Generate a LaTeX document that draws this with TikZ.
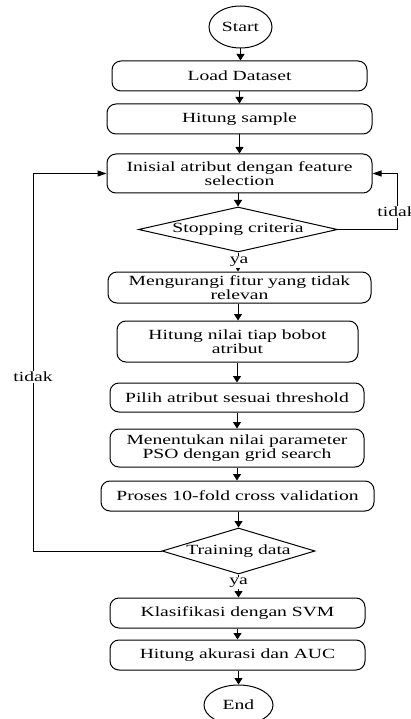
\documentclass[tikz,border=0pt]{standalone}
\usepackage{fontspec}
\setmainfont{Liberation Serif}[FakeStretch=1.4]
\usetikzlibrary{shapes.geometric,arrows.meta}
\begin{document}
\begin{tikzpicture}[x=1pt,y=-1pt,
  every node/.style={font=\fontsize{14}{14}\selectfont, align=center, inner sep=0pt},
  proc/.style={draw, line width=1pt, rounded corners=9pt, fill=white},
  term/.style={draw, line width=1pt, ellipse, fill=white},
  decis/.style={draw, line width=1pt, diamond, fill=white},
  flow/.style={line width=1pt, -{Triangle[length=6.5pt,width=8pt]}},
  hflow/.style={line width=1pt, -{Triangle[length=9pt,width=6pt]}},
  lbl/.style={fill=white, inner sep=1pt}
]
\useasboundingbox (0,0) rectangle (411,719);

\node[term, minimum width=63pt, minimum height=42pt] (start) at (240.5,27) {Start};
\node[proc, minimum width=255pt, minimum height=30pt] (load) at (239.5,76) {Load Dataset};
\node[proc, minimum width=265pt, minimum height=30pt] (hit) at (239.5,119) {Hitung sample};
\node[proc, minimum width=265pt, minimum height=39pt] (ini) at (239.5,173.5) {Inisial atribut dengan feature\\selection};
\node[decis, aspect=4.42, minimum width=199pt, minimum height=45pt] (stop) at (238,229.5) {Stopping criteria};
\node[proc, minimum width=263pt, minimum height=31pt] (kur) at (239.5,287.5) {Mengurangi fitur yang tidak\\relevan};
\node[proc, minimum width=241pt, minimum height=41pt] (nil) at (237.5,341.5) {Hitung nilai tiap bobot\\atribut};
\node[proc, minimum width=254pt, minimum height=29pt] (pil) at (237,397.5) {Pilih atribut sesuai threshold};
\node[proc, minimum width=254pt, minimum height=38pt] (men) at (237,448) {Menentukan nilai parameter\\PSO dengan grid search};
\node[proc, minimum width=273pt, minimum height=30pt] (pro) at (237.5,496) {Proses 10-fold cross validation};
\node[decis, aspect=3.33, minimum width=153pt, minimum height=46pt] (tra) at (238.5,551) {Training data};
\node[proc, minimum width=255pt, minimum height=30pt] (kla) at (237.5,613) {Klasifikasi dengan SVM};
\node[proc, minimum width=255pt, minimum height=30pt] (aku) at (237.5,655) {Hitung akurasi dan AUC};
\node[term, minimum width=69pt, minimum height=40pt] (end) at (238.5,705) {End};

\coordinate (lft) at (33,0);
\coordinate (rgt) at (397,0);

\draw[flow] (start.south) -- (start.south |- load.north);
\draw[flow] (load.south) -- (load.south |- hit.north);
\draw[flow] (hit.south) -- (hit.south |- ini.north);
\draw[flow] (ini.south -| stop.north) -- (stop.north);
\draw[flow] (stop.south) -- (stop.south |- kur.north);
\draw[flow] (kur.south -| stop.south) -- (stop.south |- nil.north);
\draw[flow] (pil.north |- nil.south) -- (pil.north);
\draw[flow] (pil.south) -- (men.north);
\draw[flow] (men.south) -- (men.south |- pro.north);
\draw[flow] (tra.north |- pro.south) -- (tra.north);
\draw[flow] (tra.south) -- (tra.south |- kla.north);
\draw[flow] (kla.south) -- (aku.north);
\draw[flow] (aku.south -| end.north) -- (end.north);

\draw[hflow] (stop.east) -- (stop.east -| rgt) |- (ini.east);
\draw[hflow] (tra.west) -- (tra.west -| lft) |- (ini.west);

\node[lbl] (ya1) at (239,262) {ya};
\node[lbl] (ya2) at (238.5,583) {ya};
\node[lbl] (td1) at (397,212) {tidak};
\node[lbl] (td2) at (33,377) {tidak};
\end{tikzpicture}
\end{document}
